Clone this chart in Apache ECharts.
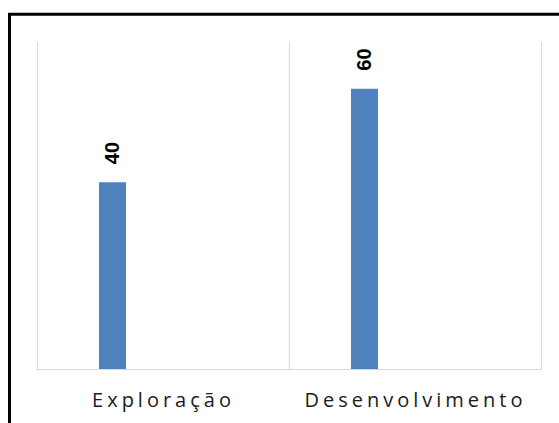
<!DOCTYPE html>
<html>
<head>
<meta charset="utf-8">
<script src="https://cdn.jsdelivr.net/npm/echarts@6/dist/echarts.min.js"></script>
<style>
  html, body { margin: 0; padding: 0; background: #fff; }
  #chart { width: 559px; height: 423px; }
  /* espaçamento das letras nos rótulos do eixo (como no Excel) */
  #chart text { letter-spacing: 4px; }
  #chart text[style*="bold"] { letter-spacing: 0; }
</style>
</head>
<body>
<div id="chart"></div>
<script>
// categorias
const categories = ["Exploração", "Desenvolvimento"];
// valores
const values = [40, 60];
// série vazia (o Excel deixa espaço para ela)
const emptyValues = ["-", "-"];

const chart = echarts.init(document.getElementById("chart"), null, { renderer: "svg" });

chart.setOption({
  animation: false,
  backgroundColor: "#fff",
  grid: {
    left: 37.5,
    right: 17.5,
    top: 42,
    bottom: 54
  },
  xAxis: {
    type: "category",
    data: categories,
    boundaryGap: true,
    axisTick: { show: false },
    axisLine: {
      lineStyle: { color: "#d9d9d9", width: 1 }
    },
    // linhas verticais entre as categorias
    splitLine: {
      show: true,
      lineStyle: { color: "#d9d9d9", width: 1 }
    },
    axisLabel: {
      margin: 20,
      color: "#1a1a1a",
      fontFamily: "Open Sans",
      fontSize: 20
    }
  },
  yAxis: {
    type: "value",
    min: 0,
    max: 70,
    show: false,
    splitLine: { show: false }
  },
  series: [
    {
      type: "bar",
      data: values,
      barWidth: 27,
      barGap: "278%",
      itemStyle: { color: "#4f81bd" },
      label: {
        show: true,
        position: "top",
        rotate: 90,
        align: "left",
        verticalAlign: "middle",
        distance: 18,
        color: "#000",
        fontFamily: "Liberation Sans",
        fontWeight: "bold",
        fontSize: 20
      }
    },
    {
      type: "bar",
      data: emptyValues,
      barWidth: 27
    }
  ],
  // moldura (só a esquerda e o topo aparecem)
  graphic: [
    {
      type: "polyline",
      shape: { points: [[9.5, 423], [9.5, 14.3], [559, 14.3]] },
      style: { stroke: "#000", lineWidth: 3, fill: null }
    }
  ]
});
</script>
</body>
</html>
